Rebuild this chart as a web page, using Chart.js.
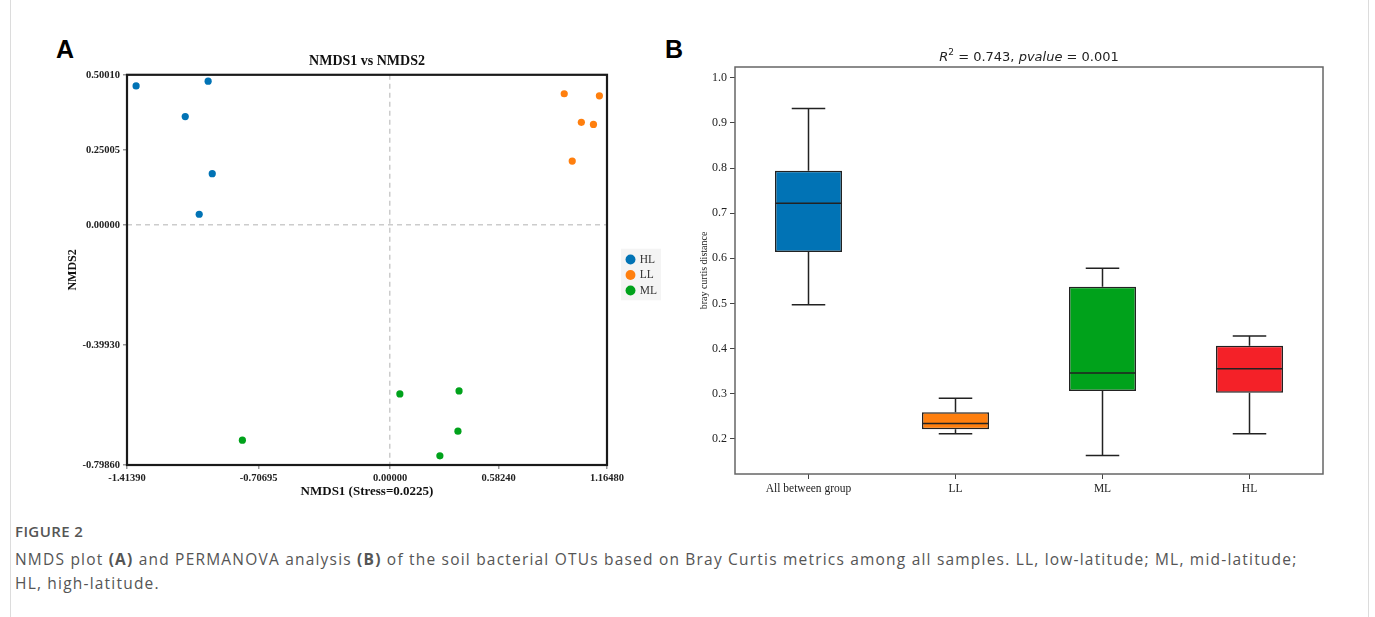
<!DOCTYPE html>
<html><head><meta charset="utf-8">
<script src="https://cdn.jsdelivr.net/npm/chart.js@4.4.1/dist/chart.umd.min.js"></script>
<style>
html,body{margin:0;padding:0;background:#fff;width:1375px;height:617px;overflow:hidden;position:relative;font-family:"Open Sans",sans-serif}
.vline{position:absolute;top:0;width:1px;height:617px;background:#dcdcdc}
.plabel{position:absolute;font:bold 25px "Liberation Sans",Arial,sans-serif;color:#000}
#wrapA{position:absolute;left:40px;top:40px;width:654px;height:470px}
#wrapB{position:absolute;left:690px;top:40px;width:670px;height:470px}
#titleB{position:absolute;top:49px;left:829px;width:400px;text-align:center;font:13px "DejaVu Sans",sans-serif;color:#222}
#titleB sup{font-size:9px;vertical-align:6px;line-height:0}
#figlab{position:absolute;left:15px;top:521px;font:600 15px "Open Sans",sans-serif;color:#555;letter-spacing:0.4px}
#cap{position:absolute;left:15px;top:547px;width:1300px;font:400 15.5px/24px "Open Sans",sans-serif;color:#555;letter-spacing:1.2px}
#cap b{font-weight:700}
</style></head>
<body>
<div class="vline" style="left:10px"></div>
<div class="vline" style="left:1368px"></div>
<div class="plabel" style="left:56px;top:35px">A</div>
<div class="plabel" style="left:665px;top:35px">B</div>
<div id="wrapA"><canvas id="cA"></canvas></div>
<div id="wrapB"><canvas id="cB"></canvas></div>
<div id="titleB"><i>R</i><sup>2</sup> = 0.743, <i>pvalue</i> = 0.001</div>
<div id="figlab">FIGURE 2</div>
<div id="cap">NMDS plot <b>(A)</b> and PERMANOVA analysis <b>(B)</b> of the soil bacterial OTUs based on Bray Curtis metrics among all samples. LL, low-latitude; ML, mid-latitude; HL, high-latitude.</div>
<script>
// ---- Panel A data (NMDS scores) ----
const hlX = [-1.365, -0.978, -1.101, -0.956, -1.026];
const hlY = [0.463, 0.479, 0.361, 0.171, 0.036];
const llX = [0.935, 1.124, 1.027, 1.092, 0.978];
const llY = [0.437, 0.430, 0.342, 0.335, 0.213];
const mlX = [-0.794, 0.052, 0.370, 0.364, 0.267];
const mlY = [-0.716, -0.562, -0.552, -0.686, -0.768];
const nmdsXTicks = [-1.41390, -0.70695, 0.00000, 0.58240, 1.16480];
const nmdsYTicks = [0.50010, 0.25005, 0.00000, -0.39930, -0.79860];

// ---- Panel B data (Bray Curtis distance boxplots) ----
const groups = ['All between group', 'LL', 'ML', 'HL'];
const whiskerLow = [0.497, 0.211, 0.163, 0.211];
const q1 = [0.614, 0.221, 0.306, 0.302];
const median = [0.722, 0.234, 0.346, 0.355];
const q3 = [0.794, 0.259, 0.537, 0.406];
const whiskerHigh = [0.932, 0.290, 0.578, 0.428];
const brayTicks = [0.2, 0.3, 0.4, 0.5, 0.6, 0.7, 0.8, 0.9, 1.0];

const cBlue = '#0173B5', cOrange = '#FF7F0E', cGreen = '#00A21B', cRed = '#F42128';

const serifB = {family: '"Liberation Serif","Times New Roman",serif', weight: 'bold'};
const serifR = {family: '"Liberation Serif","Times New Roman",serif'};

const frameA = {
  id: 'frameA',
  beforeDraw(chart) {
    const lg = chart.legend;
    if (lg && lg.legendHitBoxes && lg.legendHitBoxes.length) {
      const hb = lg.legendHitBoxes;
      const x0 = Math.min(...hb.map(h => h.left)) - 6;
      const y0 = Math.min(...hb.map(h => h.top)) - 5;
      const x1 = Math.max(...hb.map(h => h.left + h.width)) + 4;
      const y1 = Math.max(...hb.map(h => h.top + h.height)) + 4;
      const c = chart.ctx; c.save(); c.fillStyle = '#f4f4f4'; c.fillRect(x0, y0, x1 - x0, y1 - y0); c.restore();
    }
  },
  afterDraw(chart) {
    const a = chart.chartArea, c = chart.ctx;
    c.save(); c.strokeStyle = '#1a1a1a'; c.lineWidth = 2.2;
    c.strokeRect(a.left, a.top, a.right - a.left, a.bottom - a.top); c.restore();
  }
};

const zeroGridColor = c => (c.tick && c.tick.value === 0) ? '#cccccc' : 'rgba(0,0,0,0)';

new Chart(document.getElementById('cA'), {
  type: 'scatter',
  data: {
    datasets: [
      {label: 'HL', data: hlX.map((x, i) => ({x, y: hlY[i]})), backgroundColor: cBlue, borderColor: cBlue},
      {label: 'LL', data: llX.map((x, i) => ({x, y: llY[i]})), backgroundColor: cOrange, borderColor: cOrange},
      {label: 'ML', data: mlX.map((x, i) => ({x, y: mlY[i]})), backgroundColor: cGreen, borderColor: cGreen}
    ]
  },
  options: {
    responsive: true, maintainAspectRatio: false, animation: false,
    elements: {point: {radius: 3.6, borderWidth: 0, hoverRadius: 3.6}},
    plugins: {
      tooltip: {enabled: false},
      title: {display: true, text: 'NMDS1 vs NMDS2', color: '#111', font: {...serifB, size: 14}, padding: {top: 13, bottom: 5}},
      legend: {
        position: 'right', align: 'center', weight: 1000,
        labels: {usePointStyle: true, pointStyle: 'circle', boxWidth: 7, boxHeight: 7, padding: 4, color: '#333',
          font: {family: '"Liberation Serif","Times New Roman",serif', size: 11.5}}
      }
    },
    scales: {
      x: {
        type: 'linear', min: -1.4139, max: 1.1648,
        afterBuildTicks(s) { s.ticks = nmdsXTicks.map(v => ({value: v})); },
        afterFit(s) { s.height = 45; },
        border: {display: false, dash: [5, 4]},
        grid: {drawOnChartArea: true, tickLength: 4, tickColor: '#999', color: zeroGridColor, lineWidth: 1.5},
        ticks: {color: '#222', font: {...serifB, size: 10.5}, padding: 3, maxRotation: 0, autoSkip: false,
          callback: v => Number(v).toFixed(5)},
        title: {display: true, text: 'NMDS1 (Stress=0.0225)', color: '#111', font: {...serifB, size: 13}, padding: {top: 0, bottom: 11}}
      },
      y: {
        type: 'linear', min: -0.7986, max: 0.5001,
        afterBuildTicks(s) { s.ticks = nmdsYTicks.map(v => ({value: v})); },
        afterFit(s) { s.width = 87; },
        border: {display: false, dash: [5, 4]},
        grid: {drawOnChartArea: true, tickLength: 4, tickColor: '#999', color: zeroGridColor, lineWidth: 1.5},
        ticks: {color: '#222', font: {...serifB, size: 10.5}, padding: 3, autoSkip: false,
          callback: v => Number(v).toFixed(5)},
        title: {display: true, text: 'NMDS2', color: '#111', font: {...serifB, size: 12}, padding: {top: 26, bottom: 0}}
      },
      gapInner: {
        type: 'linear', position: 'right', weight: 0, display: true,
        grid: {display: false}, ticks: {display: false}, border: {display: false},
        afterFit(s) { s.width = 16; }
      },
      gapOuter: {
        type: 'linear', position: 'right', weight: 2000, display: true,
        grid: {display: false}, ticks: {display: false}, border: {display: false},
        afterFit(s) { s.width = 27; }
      }
    }
  },
  plugins: [frameA]
});

const boxPlugin = {
  id: 'boxParts',
  afterDatasetsDraw(chart) {
    const xs = chart.scales.x, ys = chart.scales.y, c = chart.ctx;
    const meta = chart.getDatasetMeta(0);
    c.save(); c.strokeStyle = '#222'; c.lineWidth = 1.5;
    groups.forEach((g, i) => {
      const x = xs.getPixelForValue(i);
      const w = meta.data[i].width;
      const yl = ys.getPixelForValue(whiskerLow[i]), yh = ys.getPixelForValue(whiskerHigh[i]);
      const y1 = ys.getPixelForValue(q1[i]), y3 = ys.getPixelForValue(q3[i]);
      const ym = ys.getPixelForValue(median[i]);
      c.beginPath();
      c.moveTo(x, y3); c.lineTo(x, yh);
      c.moveTo(x - w / 4, yh); c.lineTo(x + w / 4, yh);
      c.moveTo(x, y1); c.lineTo(x, yl);
      c.moveTo(x - w / 4, yl); c.lineTo(x + w / 4, yl);
      c.moveTo(x - w / 2, ym); c.lineTo(x + w / 2, ym);
      c.stroke();
    });
    const a = chart.chartArea;
    c.strokeStyle = '#666'; c.lineWidth = 1.5;
    c.strokeRect(a.left, a.top, a.right - a.left, a.bottom - a.top);
    c.restore();
  }
};

new Chart(document.getElementById('cB'), {
  type: 'bar',
  data: {
    labels: groups,
    datasets: [{
      label: 'Bray Curtis distance',
      data: q1.map((v, i) => [v, q3[i]]),
      backgroundColor: [cBlue, cOrange, cGreen, cRed],
      borderColor: '#222', borderWidth: 1.5, borderSkipped: false,
      categoryPercentage: 1, barPercentage: 0.456
    }]
  },
  options: {
    responsive: true, maintainAspectRatio: false, animation: false,
    layout: {padding: {top: 27, right: 37, bottom: 0, left: 0}},
    plugins: {legend: {display: false}, tooltip: {enabled: false}, title: {display: false}},
    scales: {
      x: {
        afterFit(s) { s.height = 36; },
        border: {display: false},
        grid: {offset: false, drawOnChartArea: false, tickLength: 5, tickColor: '#444'},
        ticks: {color: '#222', font: {...serifR, size: 11.5}, padding: 3, maxRotation: 0}
      },
      y: {
        type: 'linear', min: 0.122, max: 1.024,
        afterBuildTicks(s) { s.ticks = brayTicks.map(v => ({value: v})); },
        afterFit(s) { s.width = 45; },
        border: {display: false},
        grid: {drawOnChartArea: false, tickLength: 5, tickColor: '#444'},
        ticks: {color: '#222', font: {...serifR, size: 12}, padding: 3, callback: v => Number(v).toFixed(1)},
        title: {display: true, text: 'bray curtis distance', color: '#222', font: {...serifR, size: 10}, padding: {top: 8, bottom: 0}}
      }
    }
  },
  plugins: [boxPlugin]
});
</script>
</body></html>
